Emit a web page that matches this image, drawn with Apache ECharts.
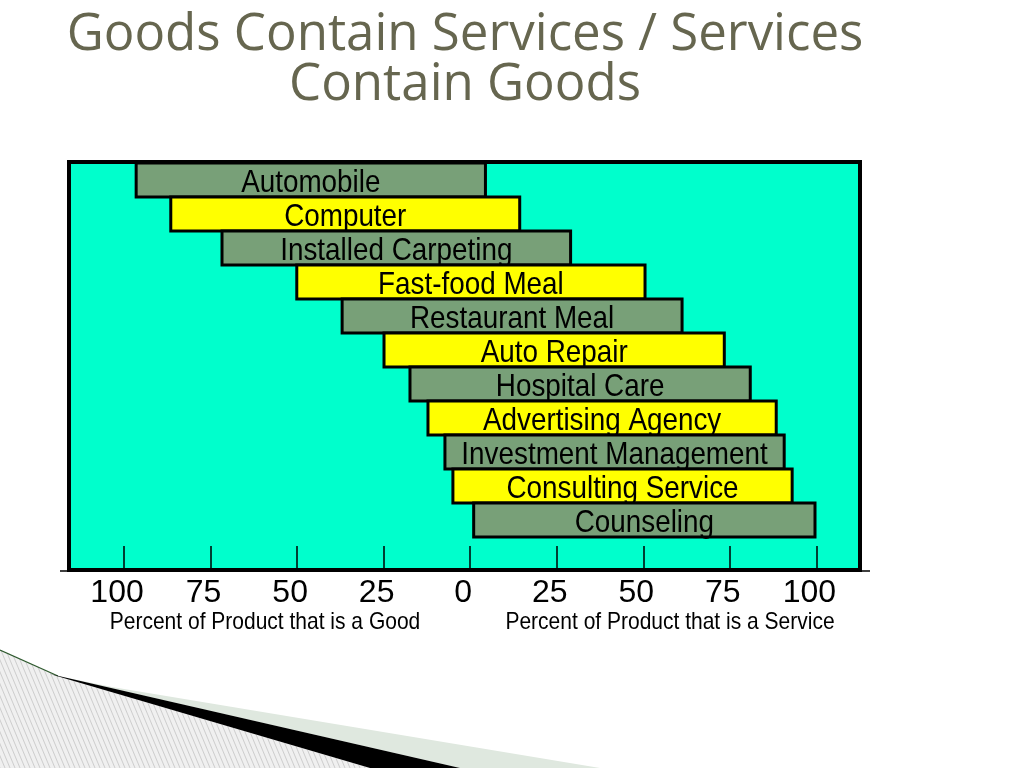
<!DOCTYPE html>
<html>
<head>
<meta charset="utf-8">
<script src="https://cdn.jsdelivr.net/npm/echarts@6/dist/echarts.min.js"></script>
<style>
html,body{margin:0;padding:0;background:#fff;}
#main{width:1024px;height:768px;}
</style>
</head>
<body>
<div id="main"></div>
<script>
// products from mostly-good (top) to mostly-service (bottom)
var products=['Automobile','Computer','Installed Carpeting','Fast-food Meal','Restaurant Meal',
  'Auto Repair','Hospital Care','Advertising Agency','Investment Management','Consulting Service','Counseling'];
// bar extent on a signed scale: negative = good share side, positive = service share side
var barStart=[-96.5,-86.5,-71.7,-50.1,-37,-24.9,-17.4,-12.2,-7.3,-5,1];
var barEnd=[4.4,14.3,29,50.5,61.2,73.4,80.9,88.4,90.7,93,99.6];
var tickValues=[-100,-75,-50,-25,0,25,50,75,100];
var goodLabel='Percent of Product that is a Good';
var serviceLabel='Percent of Product that is a Service';

var sans="'Liberation Sans',Arial,sans-serif";
var colors=['#78a078','#ffff00'];

var data=[];
for(var i=0;i<products.length;i++){
    data.push({name:products[i],value:[i,barStart[i],barEnd[i]]});
}

// hatch for the slide decoration
var hatch=document.createElement('canvas');
hatch.width=5;hatch.height=12;
var hc=hatch.getContext('2d');
hc.fillStyle='#f0f0f0';hc.fillRect(0,0,5,12);
hc.strokeStyle='#c4c4c4';hc.lineWidth=0.8;
hc.beginPath();hc.moveTo(0,0);hc.lineTo(5,12);
hc.moveTo(-5,0);hc.lineTo(0,12);hc.moveTo(5,0);hc.lineTo(10,12);hc.stroke();

// narrow text (no Arial Narrow installed, so squeeze Liberation Sans)
function narrowText(str,x,y,size){
    return {type:'text',x:x,y:y,scaleX:0.875,
        style:{text:str,x:0,y:0,align:'center',verticalAlign:'middle',font:size+'px '+sans,fill:'#000'}};
}

var chart=echarts.init(document.getElementById('main'));
chart.setOption({
    animation:false,
    title:{text:'Goods Contain Services / Services\nContain Goods',left:460,top:5,textAlign:'center',
        textStyle:{fontFamily:"'Open Sans',sans-serif",fontSize:51,fontWeight:'normal',color:'#66664f',lineHeight:50}},
    grid:{left:69,right:164,top:162,bottom:198,show:true,backgroundColor:'#00ffcc',borderColor:'#000',borderWidth:4},
    xAxis:{
        type:'value',min:-115.9,max:112.6,position:'bottom',
        splitLine:{show:false},
        axisLine:{show:true,onZero:false,lineStyle:{color:'#000',width:4}},
        axisTick:{show:true,inside:true,length:24,customValues:tickValues,lineStyle:{color:'#000',width:1.5}},
        axisLabel:{show:true,customValues:tickValues,margin:7,padding:[0,14,0,0],
            fontFamily:sans,fontSize:32,color:'#000',
            formatter:function(v){return String(Math.abs(v));}}
    },
    yAxis:{type:'value',inverse:true,min:-0.53,max:11.47,show:false},
    graphic:[
        {type:'line',shape:{x1:60,y1:571,x2:870,y2:571},style:{stroke:'#000',lineWidth:1.5},z:-1},
        narrowText(goodLabel,265,622,24),
        narrowText(serviceLabel,670,622,24),
        {type:'polygon',shape:{points:[[0,650],[58,676],[370,768],[0,768]]},style:{fill:{image:hatch,repeat:'repeat'}},silent:true},
        {type:'polyline',shape:{points:[[0,650],[58,676]]},style:{stroke:'#2f5a2f',lineWidth:1.2}},
        {type:'polygon',shape:{points:[[58,676],[112,687],[600,768],[460,768]]},style:{fill:'#dfe8df'},silent:true},
        {type:'polygon',shape:{points:[[50,674],[460,768],[370,768]]},style:{fill:'#000'},silent:true}
    ],
    series:[{
        type:'custom',
        data:data,
        encode:{x:[1,2],y:0},
        renderItem:function(params,api){
            var idx=api.value(0);
            var p0=api.coord([api.value(1),idx-0.5]);
            var p1=api.coord([api.value(2),idx+0.5]);
            var y0=Math.min(p0[1],p1[1]),h=Math.abs(p1[1]-p0[1]);
            return {type:'group',children:[
                {type:'rect',shape:{x:p0[0],y:y0,width:p1[0]-p0[0],height:h},
                 style:{fill:colors[idx%2],stroke:'#000',lineWidth:3}},
                {type:'text',x:(p0[0]+p1[0])/2,y:y0+h/2+3,scaleX:0.87,
                 style:{text:products[idx],x:0,y:0,align:'center',verticalAlign:'middle',font:'32px '+sans,fill:'#000'}}
            ]};
        }
    }]
});
</script>
</body>
</html>
